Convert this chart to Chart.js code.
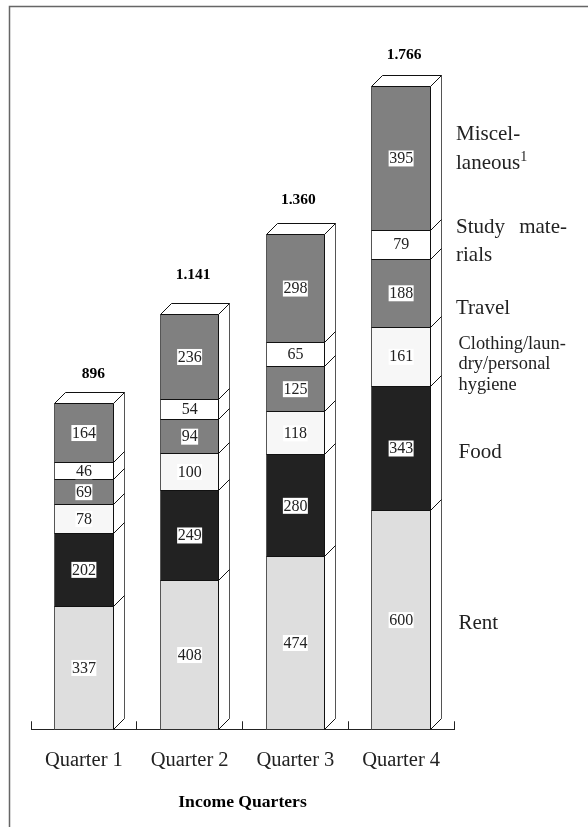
<!DOCTYPE html>
<html>
<head>
<meta charset="utf-8">
<style>
  html, body { margin: 0; padding: 0; background: #fff; }
  #wrap { position: relative; width: 588px; height: 827px; }
</style>
<script src="https://cdn.jsdelivr.net/npm/chart.js@4"></script>
</head>
<body>
<div id="wrap"><canvas id="grafico" width="588" height="827"></canvas></div>
<script>
const quarters = ['Quarter 1', 'Quarter 2', 'Quarter 3', 'Quarter 4']
const totals = ['896', '1.141', '1.360', '1.766']
const rent = [337, 408, 474, 600]
const food = [202, 249, 280, 343]
const clothing = [78, 100, 118, 161]
const travel = [69, 94, 125, 188]
const study = [46, 54, 65, 79]
const misc = [164, 236, 298, 395]

const serif = '"Liberation Serif", "Times New Roman", serif'
const depth = 11
// hand placed in the original, so each total sits a bit differently
const totalShift = [[9.5, -29], [3.5, -39], [3, -34], [3, -32]]

const snap = (v) => Math.round(v - 0.5) + 0.5

const panelFrame = {
  id: 'panelFrame',
  beforeDraw(chart) {
    const c = chart.ctx
    c.save()
    c.strokeStyle = '#666'
    c.lineWidth = 1.5
    c.beginPath()
    c.moveTo(9.5, 827)
    c.lineTo(9.5, 6.5)
    c.lineTo(588, 6.5)
    c.stroke()
    c.restore()
  },
}

// side and top faces of each column
const faces3d = {
  id: 'faces3d',
  beforeDatasetsDraw(chart) {
    const c = chart.ctx
    const n = chart.data.datasets.length
    const yb = snap(chart.scales.y.getPixelForValue(0))
    c.save()
    c.lineWidth = 1
    quarters.forEach((q, i) => {
      const base = chart.getDatasetMeta(0).data[i]
      const top = chart.getDatasetMeta(n - 1).data[i]
      const l = snap(base.x - base.width / 2)
      const r = snap(base.x + base.width / 2)
      const yt = snap(top.y)
      c.fillStyle = '#fff'
      c.strokeStyle = '#555'
      c.beginPath()
      c.moveTo(r + depth, yb - depth)
      c.lineTo(r + depth, yt - depth)
      c.lineTo(l + depth, yt - depth)
      c.lineTo(l, yt)
      c.lineTo(r, yb)
      c.closePath()
      c.fill()
      c.beginPath()
      c.moveTo(r + depth, yb - depth)
      c.lineTo(r + depth, yt - depth)
      c.stroke()
      c.strokeStyle = '#111'
      c.beginPath()
      c.moveTo(r + depth, yt - depth)
      c.lineTo(l + depth, yt - depth)
      c.lineTo(l, yt)
      c.moveTo(r, yb)
      c.lineTo(r + depth, yb - depth)
      chart.data.datasets.forEach((d, k) => {
        const y = snap(chart.getDatasetMeta(k).data[i].y)
        c.moveTo(r, y)
        c.lineTo(r + depth, y - depth)
      })
      c.stroke()
    })
    c.restore()
  },
}

const labels3d = {
  id: 'labels3d',
  afterDatasetsDraw(chart) {
    const c = chart.ctx
    const yScale = chart.scales.y
    const xScale = chart.scales.x
    const sets = chart.data.datasets
    c.save()

    // column outlines: grey left edge, black right edge, dark joins
    c.lineWidth = 1
    quarters.forEach((q, i) => {
      const base = chart.getDatasetMeta(0).data[i]
      const top = chart.getDatasetMeta(sets.length - 1).data[i]
      const l = snap(base.x - base.width / 2)
      const r = snap(base.x + base.width / 2)
      const yb = snap(yScale.getPixelForValue(0))
      c.strokeStyle = '#555'
      c.beginPath()
      c.moveTo(l, snap(top.y))
      c.lineTo(l, yb)
      c.stroke()
      c.strokeStyle = '#111'
      c.beginPath()
      c.moveTo(r, snap(top.y))
      c.lineTo(r, yb)
      sets.forEach((d, k) => {
        const y = snap(chart.getDatasetMeta(k).data[i].y)
        c.moveTo(l, y)
        c.lineTo(r, y)
      })
      c.stroke()
    })

    c.textAlign = 'center'
    c.textBaseline = 'middle'

    // values on white boxes
    c.font = '16px ' + serif
    sets.forEach((d, k) => {
      chart.getDatasetMeta(k).data.forEach((bar, i) => {
        const y = (bar.y + bar.base) / 2
        const w = c.measureText(String(d.data[i])).width + 1
        c.fillStyle = '#fff'
        c.fillRect(bar.x - w / 2, y - 8, w, 16)
        c.fillStyle = '#222'
        c.fillText(String(d.data[i]), bar.x, y + 0.5)
      })
    })

    // totals above columns
    c.font = 'bold 15.5px ' + serif
    c.fillStyle = '#000'
    const last = chart.getDatasetMeta(sets.length - 1).data
    totals.forEach((t, i) => {
      c.fillText(t, last[i].x + totalShift[i][0], last[i].y + totalShift[i][1])
    })

    // tick marks stand up from the axis
    const step = xScale.width / quarters.length
    c.strokeStyle = '#222'
    for (let i = 0; i <= quarters.length; i++) {
      const x = snap(xScale.left + i * step)
      c.beginPath()
      c.moveTo(x, yScale.bottom)
      c.lineTo(x, yScale.bottom - 8)
      c.stroke()
    }

    // series names next to the last column
    c.textAlign = 'left'
    c.fillStyle = '#222'
    c.font = '21px ' + serif
    c.fillText('Miscel-', 456, 134)
    c.fillText('laneous', 456, 163)
    const lw = c.measureText('laneous').width
    c.fillText('Study', 456, 227)
    c.textAlign = 'right'
    c.fillText('mate-', 567, 227)
    c.textAlign = 'left'
    c.fillText('rials', 456, 255)
    c.fillText('Travel', 456, 308)
    c.fillText('Food', 458.5, 452)
    c.fillText('Rent', 458.5, 623)
    c.font = '14px ' + serif
    c.fillText('1', 456 + lw, 157)
    c.font = '18.4px ' + serif
    c.fillText('Clothing/laun-', 458.5, 344)
    c.fillText('dry/personal', 458.5, 364.5)
    c.fillText('hygiene', 458.5, 385)
    c.restore()
  },
}

const seriesNames = ['Rent', 'Food', 'Clothing', 'Travel', 'Study materials', 'Miscellaneous']
const seriesValues = [rent, food, clothing, travel, study, misc]
const seriesColors = ['#dedede', '#222222', '#f7f7f7', '#808080', '#ffffff', '#808080']

new Chart(document.getElementById('grafico'), {
  type: 'bar',
  data: {
    labels: quarters,
    datasets: seriesNames.map((name, i) => ({
      label: name,
      data: seriesValues[i],
      backgroundColor: seriesColors[i],
      borderWidth: 0,
      barPercentage: 0.555,
      categoryPercentage: 1,
    })),
  },
  options: {
    responsive: false,
    animation: false,
    layout: { padding: { left: 31, right: 134, top: 56, bottom: 0 } },
    plugins: {
      legend: { display: false },
      tooltip: { enabled: false },
      title: {
        display: true,
        position: 'bottom',
        text: 'Income Quarters',
        color: '#000',
        font: { family: serif, size: 17.6, weight: 'bold' },
        padding: { top: 8, bottom: 14 },
      },
    },
    scales: {
      x: {
        stacked: true,
        grid: { display: false },
        border: { display: true, color: '#222' },
        ticks: { color: '#222', font: { family: serif, size: 20.5 }, padding: 11, maxRotation: 0 },
      },
      y: {
        stacked: true,
        min: 0,
        max: 1850,
        display: false,
      },
    },
  },
  plugins: [panelFrame, faces3d, labels3d],
})
</script>
</body>
</html>
